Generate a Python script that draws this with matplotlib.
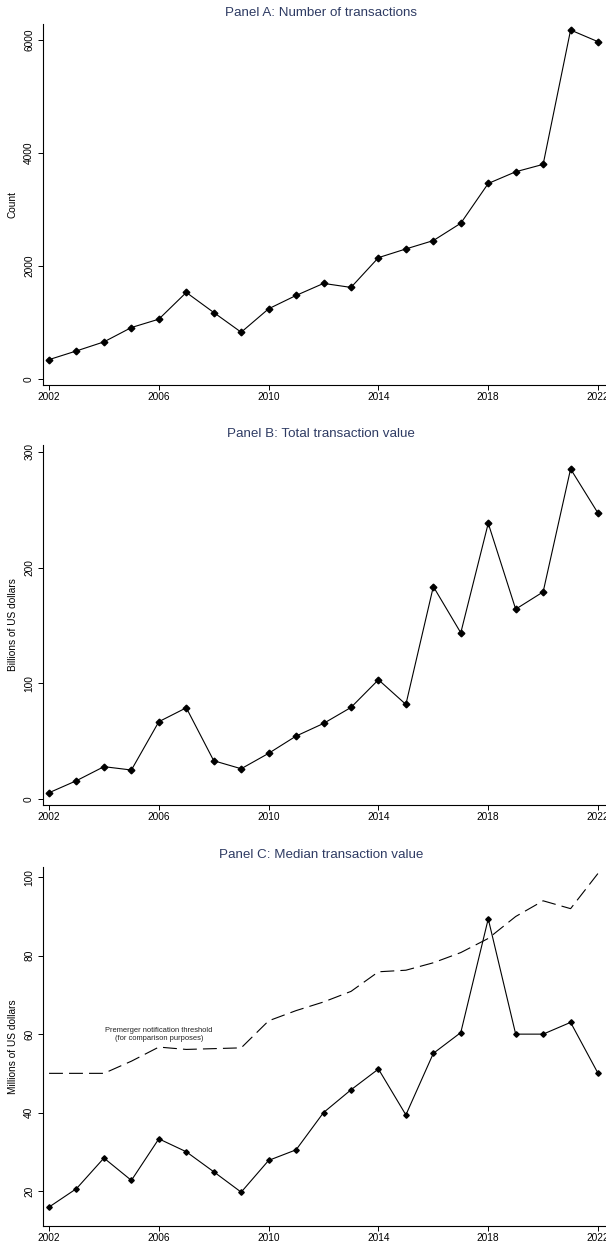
# Three-panel transaction chart (count, total value, median value)
import matplotlib.pyplot as plt

plt.rcParams['font.family'] = ['Liberation Sans', 'DejaVu Sans']

# Data
years = list(range(2002, 2023))
count = [343, 497, 657, 911, 1059, 1532, 1177, 828, 1243, 1479, 1692,
         1621, 2148, 2302, 2450, 2757, 3461, 3668, 3799, 6177, 5970]
total_value = [5.7, 16.1, 28.2, 25.3, 67.0, 79.0, 33.3, 26.4, 39.7, 54.6, 65.5,
               79.3, 103.2, 81.9, 183.6, 143.7, 238.2, 164.1, 179.0, 285.1, 246.9]
median_value = [15.9, 20.6, 28.4, 22.7, 33.3, 30.0, 24.9, 19.7, 27.8, 30.5, 40.0,
                45.8, 51.1, 39.4, 55.1, 60.4, 89.4, 60.0, 60.0, 63.0, 50.0]
threshold = [50.0, 50.0, 50.0, 53.1, 56.7, 56.1, 56.3, 56.5, 63.4, 66.0, 68.2,
             70.9, 75.9, 76.3, 78.2, 80.8, 84.4, 90.0, 94.0, 92.0, 101.0]

xticks = [2002, 2006, 2010, 2014, 2018, 2022]
title_color = '#2e3b63'

fig = plt.figure(figsize=(6.06, 12.45), dpi=100)

# axes boxes in figure fractions: left, bottom, width, height
boxes = [[0.0705, 0.6910, 0.9295, 0.2897],
         [0.0705, 0.3534, 0.9295, 0.2892],
         [0.0705, 0.01526, 0.9295, 0.2886]]
titles = ['Panel A: Number of transactions',
          'Panel B: Total transaction value',
          'Panel C: Median transaction value']
title_y = [13, 434, 855]
ylabels = ['Count', 'Billions of US dollars', 'Millions of US dollars']
ylims = [(-101, 6283), (-4.9, 305.8), (11.07, 102.7)]
yticks = [[0, 2000, 4000, 6000], [0, 100, 200, 300], [20, 40, 60, 80, 100]]
series = [count, total_value, median_value]
msizes = [3.4, 3.4, 2.8]

axes = []
for i in range(3):
    ax = fig.add_axes(boxes[i])
    ax.plot(years, series[i], color='black', lw=0.8, marker='D',
            ms=msizes[i], mfc='black', mec='black', zorder=3)
    ax.set_xlim(2001.77, 2022.29)
    ax.set_ylim(*ylims[i])
    ax.set_xticks(xticks)
    ax.set_yticks(yticks[i])
    ax.set_yticklabels([str(v) for v in yticks[i]], rotation=90, va='center')
    ax.tick_params(axis='both', labelsize=7.3, length=3.7, width=0.7,
                   direction='out', color='black')
    ax.tick_params(axis='x', pad=1.5)
    ax.tick_params(axis='y', pad=2.5)
    ax.spines['top'].set_visible(False)
    ax.spines['right'].set_visible(False)
    ax.spines['left'].set_linewidth(0.8)
    ax.spines['bottom'].set_linewidth(0.8)
    ax.set_ylabel(ylabels[i], fontsize=7.3)
    ax.yaxis.set_label_coords(-0.044, 0.5)
    fig.text(321 / 606, 1 - title_y[i] / 1245, titles[i], ha='center',
             va='center', fontsize=9.6, color=title_color)
    axes.append(ax)

# Panel C threshold line and its note
axC = axes[2]
axC.plot(years, threshold, color='black', lw=0.8, linestyle=(0, (12.5, 5.5)),
         zorder=2)
axC.text(2006, 60.0, 'Premerger notification threshold\n(for comparison purposes)',
         ha='center', va='center', fontsize=5.4, color='#222222',
         linespacing=1.2)

fig.savefig('out.png', dpi=100)
